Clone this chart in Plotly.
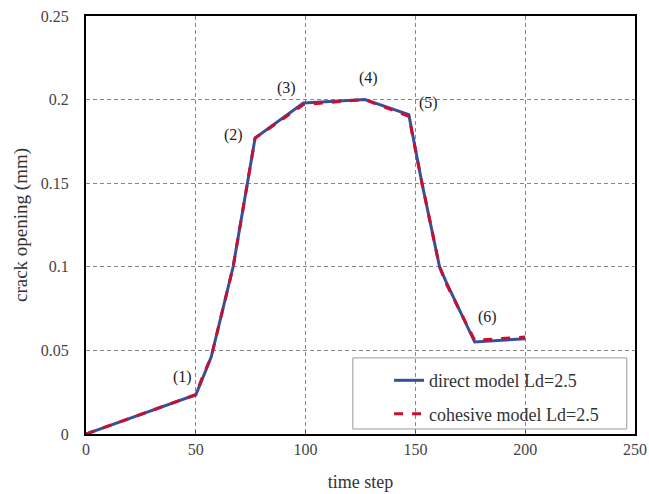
import plotly.graph_objects as go

# data
time_direct = [0, 50, 53, 57, 67, 77, 99, 127, 147, 153, 161, 164, 177, 200]
open_direct = [0, 0.0235, 0.033, 0.046, 0.100, 0.177, 0.198, 0.200, 0.191, 0.150, 0.100, 0.091, 0.055, 0.057]
time_cohesive = [0, 50, 53, 57, 67, 77, 99, 127, 147, 153, 161, 164, 177, 200]
open_cohesive = [0, 0.0235, 0.034, 0.046, 0.100, 0.177, 0.197, 0.200, 0.190, 0.150, 0.100, 0.090, 0.056, 0.058]

label_text = ["(1)", "(2)", "(3)", "(4)", "(5)", "(6)"]
label_x = [44, 67, 91.5, 128.5, 156, 183]
label_y = [0.034, 0.179, 0.207, 0.213, 0.198, 0.070]

x_ticks = [0, 50, 100, 150, 200, 250]
y_ticks = [0, 0.05, 0.1, 0.15, 0.2, 0.25]
y_tick_text = ["0", "0.05", "0.1", "0.15", "0.2", "0.25"]

serif = "Liberation Serif, Times New Roman, serif"

fig = go.Figure()
fig.add_trace(go.Scatter(
    x=time_direct, y=open_direct, mode="lines", name="direct model Ld=2.5",
    line=dict(color="#3a4f9c", width=3), legendgroup="a"))
fig.add_trace(go.Scatter(
    x=time_cohesive, y=open_cohesive, mode="lines", name="cohesive model Ld=2.5",
    line=dict(color="#c8102e", width=3, dash="dash"), legendgroup="b"))

for t, x, y in zip(label_text, label_x, label_y):
    fig.add_annotation(x=x, y=y, text=t, showarrow=False,
                       font=dict(family=serif, size=16, color="#222"))

# legend frame
fig.add_shape(type="rect", xref="paper", yref="paper",
              x0=0.486, x1=0.985, y0=0.012, y1=0.182,
              line=dict(color="#999", width=1), fillcolor="white", layer="below")

fig.update_layout(
    width=649, height=494,
    margin=dict(l=86, r=14, t=16, b=60),
    paper_bgcolor="white", plot_bgcolor="white",
    font=dict(family=serif, size=14, color="#333"),
    showlegend=True,
    legend=dict(x=0.552, y=0.172, xanchor="left", yanchor="top",
                bgcolor="rgba(0,0,0,0)", borderwidth=0,
                font=dict(family=serif, size=18, color="#333"),
                tracegroupgap=7),
    xaxis=dict(range=[0, 250], tickvals=x_ticks, showgrid=True, automargin=False,
               ticklabeloverflow="allow",
               gridcolor="#888", griddash="4px,3px", gridwidth=1,
               showline=True, linecolor="black", linewidth=2, mirror=True,
               ticks="inside", ticklen=4, tickcolor="#555", zeroline=False,
               title=dict(text="time step", font=dict(family=serif, size=18, color="#333"), standoff=18),
               tickfont=dict(family=serif, size=16, color="#444")),
    yaxis=dict(range=[0, 0.25], tickvals=y_ticks, ticktext=y_tick_text, showgrid=True, automargin=False,
               ticklabeloverflow="allow", ticklabelstandoff=12,
               gridcolor="#888", griddash="4px,3px", gridwidth=1,
               showline=True, linecolor="black", linewidth=2, mirror=True,
               ticks="", zeroline=False,
               title=dict(text="crack opening (mm)", font=dict(family=serif, size=19, color="#333"), standoff=8),
               tickfont=dict(family=serif, size=16, color="#444")),
)

fig.write_html("out.html", config={"displayModeBar": False},
               post_script="document.body.style.margin='0';document.body.style.overflow='hidden';")
